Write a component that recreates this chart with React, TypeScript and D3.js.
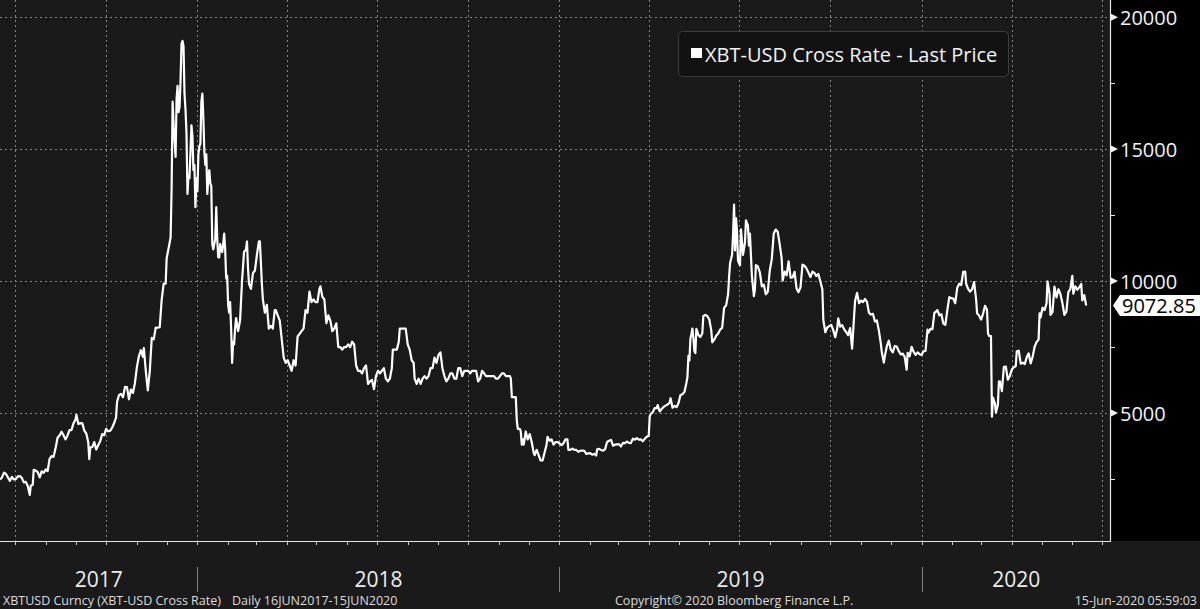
import React from 'react';
import * as d3 from 'd3';

const W = 1200;
const H = 609;
const PLOT_RIGHT = 1111;
const PLOT_BOTTOM = 541;

const yTicks = [5000, 10000, 15000, 20000];
const yMinorTicks = [2500, 7500, 12500, 17500];
const yearLabels = ['2017', '2018', '2019', '2020'];
const lastPriceLabel = '9072.85';
const legendLabel = 'XBT-USD Cross Rate - Last Price';
const footerLeft = 'XBTUSD Curncy (XBT-USD Cross Rate)';
const footerDaily = 'Daily 16JUN2017-15JUN2020';
const footerCopy = 'Copyright\u00A9 2020 Bloomberg Finance L.P.';
const footerTime = '15-Jun-2020 05:59:03';

const prices2017: [string, number][] = [
  ['06-16', 2480], ['06-18', 2560], ['06-20', 2740], ['06-22', 2690], ['06-24', 2560], ['06-26', 2430],
  ['06-28', 2580], ['06-30', 2480], ['07-02', 2500], ['07-04', 2600], ['07-06', 2610], ['07-08', 2540],
  ['07-10', 2370], ['07-12', 2390], ['07-14', 2230], ['07-16', 1900], ['07-17', 2240], ['07-19', 2280],
  ['07-20', 2850], ['07-22', 2820], ['07-24', 2760], ['07-26', 2560], ['07-28', 2790], ['07-30', 2730],
  ['08-01', 2860], ['08-03', 2800], ['08-05', 3260], ['08-07', 3370], ['08-09', 3340], ['08-11', 3660],
  ['08-13', 4060], ['08-15', 4150], ['08-17', 4290], ['08-19', 4160], ['08-21', 4000], ['08-23', 4140],
  ['08-25', 4350], ['08-27', 4350], ['08-29', 4600], ['08-31', 4740], ['09-01', 4930], ['09-03', 4580],
  ['09-05', 4620], ['09-07', 4610], ['09-09', 4330], ['09-11', 4220], ['09-13', 3880], ['09-14', 3250],
  ['09-15', 3690], ['09-17', 3710], ['09-19', 3900], ['09-21', 3620], ['09-23', 3780], ['09-25', 3930],
  ['09-27', 4200], ['09-29', 4160], ['10-01', 4400], ['10-03', 4310], ['10-05', 4320], ['10-07', 4440],
  ['10-09', 4610], ['10-11', 4830], ['10-12', 5420], ['10-14', 5680], ['10-16', 5720], ['10-18', 5600],
  ['10-20', 5990], ['10-22', 5980], ['10-24', 5520], ['10-26', 5890], ['10-28', 5760], ['10-30', 6130],
  ['11-01', 6740], ['11-03', 7150], ['11-05', 7380], ['11-07', 7130], ['11-08', 7460], ['11-10', 6590],
  ['11-12', 5860], ['11-14', 6590], ['11-16', 7850], ['11-18', 7790], ['11-20', 8240], ['11-22', 8230],
  ['11-24', 8250], ['11-26', 9300], ['11-28', 9900], ['11-30', 9900], ['12-01', 10860], ['12-03', 11250],
  ['12-05', 11650], ['12-06', 13500], ['12-07', 16800], ['12-08', 15900], ['12-10', 14700], ['12-11', 16900],
  ['12-12', 17400], ['12-13', 16400], ['12-14', 16600], ['12-15', 17600], ['12-16', 19000], ['12-17', 19100],
  ['12-18', 18900], ['12-19', 17100], ['12-20', 16500], ['12-21', 15600], ['12-22', 13300], ['12-23', 14000],
  ['12-24', 13900], ['12-26', 15900], ['12-27', 15500], ['12-28', 14200], ['12-29', 14400], ['12-30', 12800],
  ['12-31', 13900],
];

const prices2018: [string, number][] = [
  ['01-01', 13400], ['01-02', 14800], ['01-03', 15100], ['01-04', 15200], ['01-05', 16800], ['01-06', 17100],
  ['01-07', 16200], ['01-08', 14900], ['01-09', 14400], ['01-10', 14800], ['01-11', 13300], ['01-12', 13900],
  ['01-13', 14200], ['01-14', 13700], ['01-15', 13600], ['01-16', 11400], ['01-17', 11200], ['01-18', 11400],
  ['01-19', 11600], ['01-20', 12800], ['01-21', 11600], ['01-22', 10900], ['01-23', 10900], ['01-24', 11400],
  ['01-25', 11200], ['01-26', 11100], ['01-27', 11400], ['01-28', 11800], ['01-29', 11200], ['01-30', 10100],
  ['01-31', 10200], ['02-01', 9100], ['02-02', 8800], ['02-03', 9200], ['02-04', 8200], ['02-05', 6900],
  ['02-06', 7700], ['02-07', 7600], ['02-08', 8200], ['02-09', 8600], ['02-11', 8100], ['02-13', 8500],
  ['02-15', 10000], ['02-17', 11100], ['02-19', 11200], ['02-20', 11500], ['02-21', 10500], ['02-22', 9900],
  ['02-24', 9700], ['02-26', 10300], ['02-28', 10400], ['03-02', 11000], ['03-04', 11500], ['03-05', 11500],
  ['03-07', 9900], ['03-08', 9300], ['03-10', 8800], ['03-12', 9100], ['03-14', 8200], ['03-16', 8300],
  ['03-18', 8200], ['03-20', 8900], ['03-21', 8900], ['03-23', 8700], ['03-25', 8500], ['03-27', 7800],
  ['03-29', 7100], ['03-31', 6900], ['04-02', 7000], ['04-04', 6800], ['04-06', 6600], ['04-08', 7000],
  ['04-10', 6800], ['04-12', 7900], ['04-14', 8000], ['04-16', 8100], ['04-18', 8200], ['04-20', 8900],
  ['04-22', 8800], ['04-24', 9600], ['04-26', 9200], ['04-28', 9300], ['04-30', 9200], ['05-02', 9200],
  ['05-04', 9700], ['05-05', 9800], ['05-07', 9400], ['05-09', 9300], ['05-11', 8400], ['05-13', 8700],
  ['05-15', 8500], ['05-17', 8100], ['05-19', 8200], ['05-21', 8400], ['05-23', 7500], ['05-25', 7500],
  ['05-27', 7400], ['05-29', 7500], ['05-31', 7500], ['06-02', 7600], ['06-04', 7500], ['06-06', 7700],
  ['06-08', 7600], ['06-10', 6800], ['06-12', 6600], ['06-14', 6600], ['06-16', 6500], ['06-18', 6700],
  ['06-20', 6800], ['06-22', 6100], ['06-24', 6200], ['06-26', 6250], ['06-28', 5900], ['06-30', 6400],
  ['07-02', 6600], ['07-04', 6500], ['07-06', 6600], ['07-08', 6700], ['07-10', 6300], ['07-12', 6200],
  ['07-14', 6300], ['07-16', 6700], ['07-17', 7400], ['07-19', 7400], ['07-21', 7400], ['07-23', 7700],
  ['07-24', 8200], ['07-26', 8200], ['07-28', 8200], ['07-30', 8200], ['08-01', 7600], ['08-03', 7400],
  ['08-05', 7000], ['08-07', 6900], ['08-08', 6300], ['08-10', 6100], ['08-12', 6300], ['08-14', 6100],
  ['08-16', 6300], ['08-18', 6400], ['08-20', 6300], ['08-22', 6400], ['08-24', 6700], ['08-26', 6700],
  ['08-28', 7100], ['08-30', 6900], ['09-01', 7200], ['09-03', 7300], ['09-05', 6700], ['09-07', 6400],
  ['09-09', 6200], ['09-11', 6300], ['09-13', 6500], ['09-15', 6500], ['09-17', 6300], ['09-19', 6300],
  ['09-21', 6700], ['09-23', 6700], ['09-25', 6400], ['09-27', 6600], ['09-29', 6600], ['10-01', 6600],
  ['10-03', 6500], ['10-05', 6600], ['10-07', 6600], ['10-09', 6600], ['10-11', 6200], ['10-13', 6300],
  ['10-15', 6600], ['10-17', 6500], ['10-19', 6400], ['10-21', 6400], ['10-23', 6400], ['10-25', 6400],
  ['10-27', 6400], ['10-29', 6300], ['10-31', 6300], ['11-02', 6400], ['11-04', 6500], ['11-06', 6500],
  ['11-08', 6400], ['11-10', 6400], ['11-12', 6400], ['11-13', 6300], ['11-14', 5600], ['11-16', 5600],
  ['11-18', 5600], ['11-19', 4700], ['11-20', 4400], ['11-22', 4400], ['11-23', 4300], ['11-24', 3800],
  ['11-25', 4000], ['11-26', 3800], ['11-28', 4300], ['11-30', 4000], ['12-02', 4200], ['12-04', 3900],
  ['12-06', 3500], ['12-07', 3400], ['12-09', 3600], ['12-11', 3400], ['12-13', 3200], ['12-15', 3200],
  ['12-17', 3500], ['12-19', 3800], ['12-20', 4100], ['12-22', 3950], ['12-24', 4000], ['12-26', 3800],
  ['12-28', 3900], ['12-30', 3900],
];

const prices2019: [string, number][] = [
  ['01-01', 3850], ['01-03', 3780], ['01-05', 3850], ['01-07', 4000], ['01-09', 4000], ['01-10', 3600],
  ['01-12', 3600], ['01-14', 3650], ['01-16', 3600], ['01-18', 3600], ['01-20', 3530], ['01-22', 3570],
  ['01-24', 3580], ['01-26', 3570], ['01-28', 3450], ['01-30', 3470], ['02-01', 3480], ['02-03', 3420],
  ['02-05', 3450], ['02-07', 3390], ['02-08', 3620], ['02-10', 3640], ['02-12', 3600], ['02-14', 3570],
  ['02-16', 3630], ['02-18', 3900], ['02-20', 3950], ['02-22', 3980], ['02-24', 3760], ['02-26', 3800],
  ['02-28', 3810], ['03-02', 3820], ['03-04', 3730], ['03-06', 3870], ['03-08', 3860], ['03-10', 3920],
  ['03-12', 3870], ['03-14', 3860], ['03-16', 4030], ['03-18', 3990], ['03-20', 4050], ['03-22', 3990],
  ['03-24', 4000], ['03-26', 3930], ['03-28', 4020], ['03-30', 4100], ['04-01', 4140], ['04-02', 4880],
  ['04-03', 4960], ['04-05', 5030], ['04-07', 5190], ['04-09', 5180], ['04-10', 5300], ['04-12', 5060],
  ['04-14', 5150], ['04-16', 5230], ['04-18', 5280], ['04-20', 5320], ['04-22', 5390], ['04-23', 5560],
  ['04-25', 5200], ['04-27', 5270], ['04-29', 5220], ['05-01', 5380], ['05-03', 5680], ['05-05', 5710],
  ['05-07', 5800], ['05-09', 6150], ['05-10', 6360], ['05-11', 7170], ['05-12', 6990], ['05-13', 7810],
  ['05-14', 7980], ['05-15', 8200], ['05-16', 7870], ['05-17', 7350], ['05-18', 7270], ['05-19', 8190],
  ['05-21', 7960], ['05-23', 7880], ['05-25', 8010], ['05-26', 8670], ['05-28', 8720], ['05-30', 8670],
  ['06-01', 8550], ['06-03', 8140], ['06-04', 7680], ['06-06', 7780], ['06-08', 7930], ['06-10', 8010],
  ['06-12', 8160], ['06-14', 8230], ['06-16', 8990], ['06-18', 9080], ['06-20', 9500], ['06-21', 10160],
  ['06-22', 10680], ['06-24', 10990], ['06-25', 11750], ['06-26', 12900], ['06-27', 11160], ['06-28', 12390],
  ['06-29', 11880], ['06-30', 10770], ['07-02', 10600], ['07-03', 11960], ['07-05', 10990], ['07-07', 11460],
  ['07-08', 12300], ['07-10', 12100], ['07-11', 11340], ['07-12', 11800], ['07-14', 10190], ['07-16', 9430],
  ['07-17', 9670], ['07-18', 10600], ['07-20', 10550], ['07-22', 10330], ['07-24', 9800], ['07-26', 9860],
  ['07-28', 9500], ['07-30', 9590], ['08-01', 10400], ['08-03', 10820], ['08-05', 11800], ['08-07', 11950],
  ['08-09', 11870], ['08-11', 11400], ['08-13', 10860], ['08-14', 10020], ['08-16', 10360], ['08-18', 10220],
  ['08-20', 10750], ['08-22', 10130], ['08-24', 10140], ['08-26', 10350], ['08-28', 9720], ['08-30', 9580],
  ['09-01', 9760], ['09-03', 10620], ['09-05', 10580], ['09-07', 10480], ['09-09', 10320], ['09-11', 10150],
  ['09-13', 10360], ['09-15', 10310], ['09-17', 10190], ['09-19', 10270], ['09-21', 9980], ['09-23', 9690],
  ['09-24', 8530], ['09-26', 8060], ['09-28', 8240], ['09-30', 8290], ['10-02', 8340], ['10-04', 8140],
  ['10-06', 7870], ['10-08', 8200], ['10-09', 8590], ['10-11', 8270], ['10-13', 8330], ['10-15', 8170],
  ['10-17', 8070], ['10-19', 7950], ['10-21', 8220], ['10-23', 7440], ['10-25', 8660], ['10-26', 9240],
  ['10-28', 9550], ['10-30', 9160], ['11-01', 9260], ['11-03', 9200], ['11-05', 9320], ['11-07', 9210],
  ['11-09', 8800], ['11-11', 8730], ['11-13', 8760], ['11-15', 8470], ['11-17', 8510], ['11-19', 8120],
  ['11-21', 7620], ['11-22', 7290], ['11-24', 6910], ['11-25', 7150], ['11-27', 7530], ['11-29', 7740],
  ['12-01', 7400], ['12-03', 7300], ['12-05', 7540], ['12-07', 7520], ['12-09', 7350], ['12-11', 7220],
  ['12-13', 7250], ['12-15', 7130], ['12-17', 6640], ['12-18', 7280], ['12-20', 7150], ['12-22', 7510],
  ['12-24', 7320], ['12-26', 7200], ['12-28', 7300], ['12-30', 7230],
];

const prices2020: [string, number][] = [
  ['01-01', 7200], ['01-03', 7340], ['01-05', 7350], ['01-07', 8160], ['01-08', 8040], ['01-10', 8190],
  ['01-12', 8180], ['01-14', 8810], ['01-15', 8820], ['01-17', 8900], ['01-19', 8700], ['01-21', 8740],
  ['01-23', 8390], ['01-25', 8340], ['01-27', 8900], ['01-29', 9390], ['01-31', 9350], ['02-02', 9340],
  ['02-04', 9160], ['02-06', 9750], ['02-08', 9900], ['02-10', 9850], ['02-12', 10350], ['02-14', 10360],
  ['02-15', 9890], ['02-17', 9700], ['02-19', 9600], ['02-21', 9690], ['02-23', 9960], ['02-25', 9310],
  ['02-26', 8780], ['02-28', 8690], ['03-01', 8540], ['03-03', 8760], ['03-05', 9060], ['03-07', 8910],
  ['03-08', 8030], ['03-09', 7920], ['03-11', 7910], ['03-12', 4860], ['03-13', 5580], ['03-15', 5360],
  ['03-16', 5010], ['03-18', 5330], ['03-19', 6190], ['03-20', 6200], ['03-22', 5830], ['03-24', 6750],
  ['03-26', 6760], ['03-28', 6260], ['03-30', 6400], ['04-01', 6650], ['04-03', 6730], ['04-05', 6780],
  ['04-06', 7340], ['04-08', 7360], ['04-10', 6870], ['04-12', 6910], ['04-14', 6850], ['04-16', 7110],
  ['04-18', 7260], ['04-20', 6880], ['04-22', 7130], ['04-24', 7510], ['04-26', 7690], ['04-28', 7780],
  ['04-29', 8780], ['04-30', 8620], ['05-02', 8990], ['05-04', 8900], ['05-06', 9150], ['05-07', 9990],
  ['05-09', 9540], ['05-10', 8720], ['05-12', 8820], ['05-14', 9790], ['05-16', 9380], ['05-18', 9690],
  ['05-20', 9510], ['05-22', 9170], ['05-24', 8720], ['05-26', 8840], ['05-28', 9580], ['05-30', 9700],
  ['06-01', 10200], ['06-02', 9520], ['06-04', 9800], ['06-06', 9670], ['06-08', 9760], ['06-10', 9890],
  ['06-11', 9270], ['06-13', 9470], ['06-15', 9072.85],
];

type Pt = { date: Date; value: number };

function toPoints(year: number, rows: [string, number][]): Pt[] {
  return rows.map(([md, v]) => {
    const [m, d] = md.split('-').map(Number);
    return { date: new Date(Date.UTC(year, m - 1, d)), value: v };
  });
}

const series: Pt[] = [
  ...toPoints(2017, prices2017),
  ...toPoints(2018, prices2018),
  ...toPoints(2019, prices2019),
  ...toPoints(2020, prices2020),
];

const FONT = "'Open Sans', 'Noto Sans', sans-serif";
const GRID = '#858585';

export default function App() {
  const domainStart = new Date(Date.UTC(2017, 5, 16));
  const domainEnd = new Date(Date.UTC(2020, 6, 10));
  const x = d3.scaleUtc().domain([domainStart, domainEnd]).range([0, PLOT_RIGHT]);
  const y = d3.scaleLinear().domain([150, 20650]).range([PLOT_BOTTOM, 0]);

  const line = d3
    .line<Pt>()
    .x((d) => x(d.date))
    .y((d) => y(d.value))
    .curve(d3.curveLinear);

  const months = d3.utcMonth.range(domainStart, domainEnd);
  const quarters = months.filter((m) => m.getUTCMonth() % 3 === 0);
  const yearStarts = d3.utcYear.range(domainStart, domainEnd);
  const bounds = [0, ...yearStarts.map((d) => x(d)), PLOT_RIGHT];

  const lastVal = parseFloat(lastPriceLabel);
  const ly = y(lastVal);

  return (
    <svg
      width={W}
      height={H}
      style={{ position: 'absolute', left: 0, top: 0, display: 'block' }}
      fontFamily={FONT}
    >
      <rect x={0} y={0} width={W} height={H} fill="#1a1a1a" />
      <rect x={PLOT_RIGHT} y={0} width={W - PLOT_RIGHT} height={PLOT_BOTTOM} fill="#000" />

      {yTicks.map((v) => (
        <line
          key={'gy' + v}
          x1={0}
          x2={PLOT_RIGHT}
          y1={Math.round(y(v)) + 0.5}
          y2={Math.round(y(v)) + 0.5}
          stroke={GRID}
          strokeWidth={1}
          strokeDasharray="2,3"
        />
      ))}
      {quarters.map((q) => (
        <line
          key={'gx' + q.getTime()}
          x1={Math.round(x(q)) + 0.5}
          x2={Math.round(x(q)) + 0.5}
          y1={0}
          y2={PLOT_BOTTOM}
          stroke={GRID}
          strokeWidth={1}
          strokeDasharray="2,3"
        />
      ))}

      <rect x={678.5} y={31.5} width={330} height={45} rx={4} fill="#121212" stroke="#3c3c3c" />
      <rect x={691} y={48} width={11} height={10} fill="#ffffff" />
      <text x={705} y={62} fontSize={20} fill="#f2f2f2">
        {legendLabel}
      </text>

      <path d={line(series) || ''} fill="none" stroke="#ffffff" strokeWidth={2.2} strokeLinejoin="round" />

      <line x1={0} x2={PLOT_RIGHT} y1={PLOT_BOTTOM + 0.5} y2={PLOT_BOTTOM + 0.5} stroke="#e6e6e6" strokeWidth={1.2} />
      <line x1={PLOT_RIGHT - 0.5} x2={PLOT_RIGHT - 0.5} y1={0} y2={PLOT_BOTTOM} stroke="#e6e6e6" strokeWidth={1.2} />

      {months.map((m) => (
        <line
          key={'mt' + m.getTime()}
          x1={Math.round(x(m)) + 0.5}
          x2={Math.round(x(m)) + 0.5}
          y1={PLOT_BOTTOM}
          y2={PLOT_BOTTOM + 4}
          stroke="#cfcfcf"
          strokeWidth={1}
        />
      ))}

      {yMinorTicks.map((v) => (
        <line
          key={'ym' + v}
          x1={PLOT_RIGHT}
          x2={PLOT_RIGHT + 4}
          y1={Math.round(y(v)) + 0.5}
          y2={Math.round(y(v)) + 0.5}
          stroke="#e6e6e6"
          strokeWidth={1}
        />
      ))}
      {yTicks.map((v) => {
        const ty = y(v);
        return (
          <g key={'yt' + v}>
            <path d={`M${PLOT_RIGHT},${ty - 3.5} L${PLOT_RIGHT + 7},${ty} L${PLOT_RIGHT},${ty + 3.5} Z`} fill="#f0f0f0" />
            <text x={1120} y={ty + 7.5} fontSize={20} fill="#f2f2f2">
              {d3.format('d')(v)}
            </text>
          </g>
        );
      })}

      <path
        d={`M${PLOT_RIGHT + 2},${ly} L${PLOT_RIGHT + 9},${ly - 10.5} L${W},${ly - 10.5} L${W},${ly + 10.5} L${PLOT_RIGHT + 9},${ly + 10.5} Z`}
        fill="#ffffff"
      />
      <text x={1122} y={ly + 7.5} fontSize={20} fill="#000000">
        {lastPriceLabel}
      </text>

      {yearStarts.map((d) => (
        <line
          key={'ys' + d.getTime()}
          x1={Math.round(x(d)) + 0.5}
          x2={Math.round(x(d)) + 0.5}
          y1={567}
          y2={592}
          stroke="#808080"
          strokeWidth={1}
        />
      ))}
      {yearLabels.map((lab, i) => (
        <text
          key={lab}
          x={(bounds[i] + bounds[i + 1]) / 2}
          y={587}
          fontSize={21}
          fill="#ededed"
          textAnchor="middle"
        >
          {lab}
        </text>
      ))}

      <text x={3} y={605} fontSize={12.5} fill="#dcdcdc">
        {footerLeft}
      </text>
      <text x={232} y={605} fontSize={12.5} fill="#dcdcdc">
        {footerDaily}
      </text>
      <text x={615} y={605} fontSize={12.5} fill="#dcdcdc">
        {footerCopy}
      </text>
      <text x={1197} y={605} fontSize={12.5} fill="#dcdcdc" textAnchor="end">
        {footerTime}
      </text>
    </svg>
  );
}
